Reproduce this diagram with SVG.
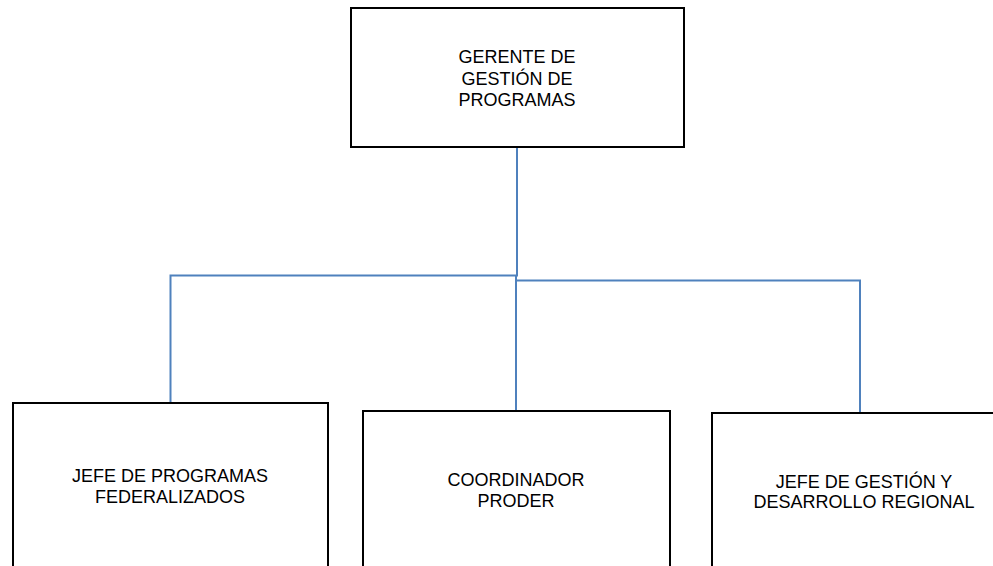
<svg xmlns="http://www.w3.org/2000/svg" width="993" height="566" viewBox="0 0 993 566">
<style>
.box{fill:#fff;stroke:#000;stroke-width:2}
.t{font-family:"Liberation Sans",Arial,sans-serif;font-size:18px;fill:#000;text-anchor:middle}
.c{fill:none;stroke:#4f81bd;stroke-width:2}
</style>
<rect width="993" height="566" fill="#fff"/>
<g id="connectors">
<path class="c" d="M517,147 V275.5 H170.5 V403"/>
<path class="c" d="M516,275.5 V411"/>
<path class="c" d="M516,280.5 H860 V413"/>
</g>
<g id="gerente">
<rect class="box" x="351" y="8" width="333" height="139"/>
<text class="t" x="517" y="63">GERENTE DE</text>
<text class="t" x="517" y="84.5">GESTIÓN DE</text>
<text class="t" x="517" y="106">PROGRAMAS</text>
</g>
<g id="jefe-programas">
<rect class="box" x="13" y="403" width="315" height="180"/>
<text class="t" x="170" y="482">JEFE DE PROGRAMAS</text>
<text class="t" x="170" y="502.5">FEDERALIZADOS</text>
</g>
<g id="coordinador">
<rect class="box" x="363" y="411" width="307" height="180"/>
<text class="t" x="516" y="486">COORDINADOR</text>
<text class="t" x="516" y="506.5">PRODER</text>
</g>
<g id="jefe-gestion">
<rect class="box" x="712" y="413" width="305" height="180"/>
<text class="t" x="864" y="488">JEFE DE GESTIÓN Y</text>
<text class="t" x="864" y="508">DESARROLLO REGIONAL</text>
</g>
</svg>
